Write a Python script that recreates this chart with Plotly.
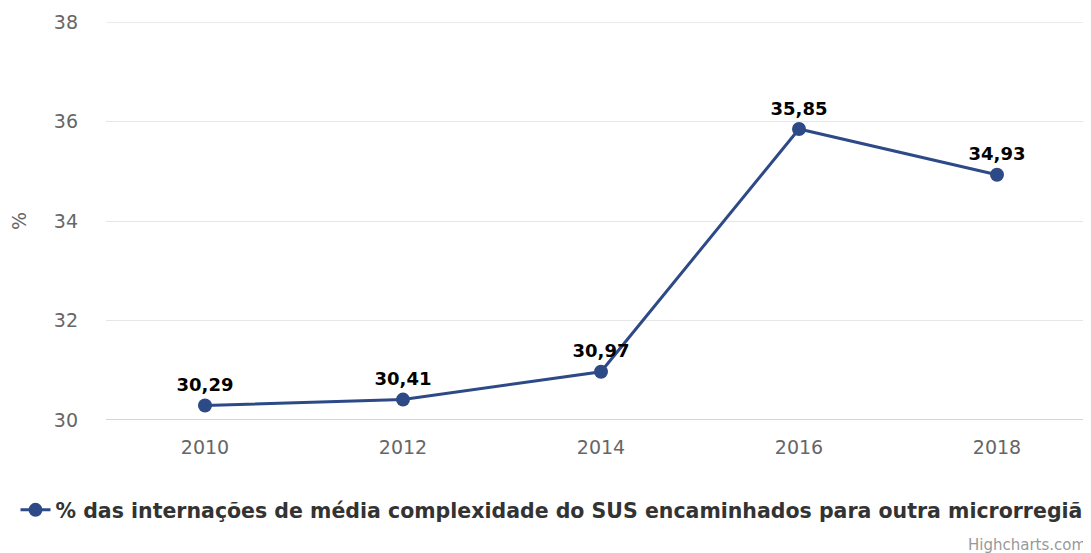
import plotly.graph_objects as go

years = [2010, 2012, 2014, 2016, 2018]
values = [30.29, 30.41, 30.97, 35.85, 34.93]
labels = ["30,29", "30,41", "30,97", "35,85", "34,93"]
series_name = "% das internações de média complexidade do SUS encaminhados para outra microrregião"
y_ticks = [30, 32, 34, 36, 38]

OFF = 8  # default body margin of the page
W, H = 1091 - OFF, 553 - OFF
plot_left, plot_top, plot_bottom = 106, 22, 420  # screen pixels
ml, mt = plot_left - OFF, plot_top - OFF
ph = plot_bottom - plot_top
mb = H - mt - ph
pw = W - ml
color = "#2d4a87"
font = "DejaVu Sans, Verdana, sans-serif"


def px_x(sx):
    return (sx - plot_left) / pw


def px_y(sy):
    return (plot_bottom - sy) / ph


fig = go.Figure()
fig.add_trace(go.Scatter(
    x=years, y=values, mode="lines+markers+text", name=series_name,
    text=labels, textposition="top center",
    textfont=dict(family=font, size=18, color="#000000", weight="bold"),
    line=dict(color=color, width=3),
    marker=dict(color=color, size=14),
    cliponaxis=False,
))

fig.update_layout(
    width=W, height=H,
    margin=dict(l=ml, r=0, t=mt, b=mb, pad=0, autoexpand=False),
    paper_bgcolor="white", plot_bgcolor="white",
    font=dict(family=font, color="#666666"),
    showlegend=True,
    legend=dict(
        orientation="h", x=px_x(15.5), xanchor="left",
        y=px_y(510), yanchor="middle",
        font=dict(family=font, size=20.5, color="#333333", weight="bold"),
        itemwidth=30,
    ),
    xaxis=dict(
        range=[2009, 2009 + pw / 99.0], tickvals=years, ticktext=[str(y) for y in years],
        showgrid=False, zeroline=False, showline=False,
        tickfont=dict(size=19, color="#666666"), ticks="", ticklabelstandoff=14,
        fixedrange=True,
    ),
    yaxis=dict(
        range=[30, 38], tickvals=y_ticks, ticktext=[str(v) for v in y_ticks],
        showgrid=True, gridcolor="#e6e6e6", gridwidth=1, zeroline=False,
        showline=False, ticks="", tickfont=dict(size=19, color="#666666"),
        ticklabelstandoff=27,
        title=dict(text="%", font=dict(size=19, color="#666666"), standoff=22),
    ),
    shapes=[
        dict(type="line", xref="paper", yref="y", x0=0, x1=1, y0=38, y1=38,
             line=dict(color="#e6e6e6", width=1.5), layer="below"),
        dict(type="line", xref="paper", yref="y", x0=0, x1=1, y0=30, y1=30,
             line=dict(color="#ccd6eb", width=2), layer="below"),
    ],
    annotations=[dict(text="Highcharts.com", xref="paper", yref="paper",
                      x=px_x(966), y=px_y(545),
                      xanchor="left", yanchor="middle", showarrow=False,
                      font=dict(family=font, size=15, color="#999999"))],
)

fig.write_html("out.html")
